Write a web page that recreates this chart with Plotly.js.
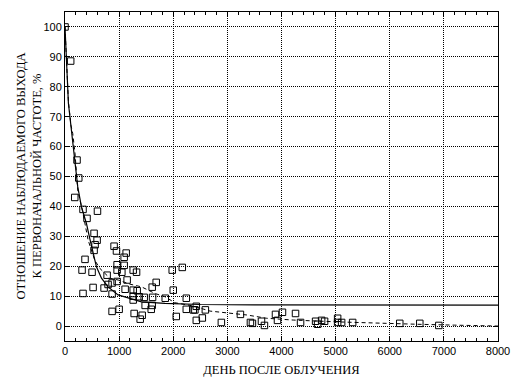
<!DOCTYPE html>
<html>
<head>
<meta charset="utf-8">
<script src="https://cdn.plot.ly/plotly-3.0.1.min.js"></script>
<style>html,body{margin:0;padding:0;background:#fff;}#chart{width:515px;height:386px;}</style>
</head>
<body>
<div id="chart"></div>
<script>
// Observed points: day after irradiation, ratio of observed yield to initial frequency (%)
const pointDays = [0, 105, 222, 254, 180, 333, 600, 407, 537, 593, 556, 537, 370, 907, 951, 1130, 1093,
  315, 500, 963, 1093, 963, 1050, 1260, 1322, 1981, 2167, 778, 1685, 1148, 1611, 870, 963, 519, 722, 796,
  1111, 333, 870, 1260, 1333, 2000, 1260, 1370, 1463, 1618, 1852, 2241, 1260, 1481, 1611, 1593, 870, 1000,
  1278, 1426, 1389, 2056, 2241, 2426, 2400, 2370, 2593, 2426, 2537, 2889, 3241, 3426, 3463, 3630, 3685,
  3889, 3926, 4018, 4259, 4352, 4630, 4667, 4741, 4796, 5037, 5037, 5111, 5315, 6185, 6555, 6907];
const pointYield = [100, 88.6, 55.5, 49.5, 43, 39, 38.4, 36, 31, 28.7, 27.2, 25.3, 22.3, 26.7, 25.1, 24.4, 23,
  18.7, 18, 20.5, 20.3, 18.7, 18, 18.7, 18, 18.7, 19.6, 17, 14.6, 15.4, 13, 14.4, 14.9, 12.9, 12.7, 13.9,
  12.3, 10.9, 10.7, 12, 11.8, 12, 10, 9.8, 9.6, 9.6, 9.3, 9.3, 8.7, 6.9, 6.9, 5.6, 4.9, 5.6,
  4.2, 3.6, 2.3, 3.2, 5.6, 6.6, 5.4, 5.4, 5.4, 1.9, 2.7, 1.2, 3.9, 1.2, 0.9, 1.6, 0.2,
  3.9, 1.9, 4.6, 4.2, 1.2, 1.6, 0.6, 1.9, 1.6, 2.6, 1.2, 1.2, 1.2, 0.9, 0.9, 0.2];

// Solid fitted curve
const solidDays = [0, 13, 31, 63, 111, 156, 198, 235, 303, 396, 457, 519, 581, 674, 796, 981, 1167, 1414, 1846, 2500, 3500, 5000, 8000];
const solidYield = [100, 95.6, 85.6, 74.5, 66.7, 60, 53.3, 46.6, 39.9, 34.3, 29.3, 24.3, 19.8, 16, 13.1, 10.4, 9.3, 8.1, 7.6, 7.2, 7.05, 7, 7];

// Dashed smoothed curve
const dashDays = [0, 13, 31, 63, 111, 143, 185, 235, 333, 426, 550, 643, 828, 981, 1200, 1414, 1661, 1846, 2031, 2370, 2680, 3050, 3360, 3728, 4216, 5025, 5765, 6500, 7200, 8000];
const dashYield = [100, 95.6, 86, 75, 67, 64.4, 57.8, 45.5, 37.7, 28.8, 22, 19.3, 16, 15.4, 14, 13.1, 10.9, 9.8, 7.8, 6.7, 5, 4.2, 3.7, 2.6, 2, 1.4, 0.9, 0.6, 0.3, 0];

const xTickVals = [0, 1000, 2000, 3000, 4000, 5000, 6000, 7000, 8000];
const yTickVals = [0, 10, 20, 30, 40, 50, 60, 70, 80, 90, 100];

const xTitle = 'ДЕНЬ ПОСЛЕ ОБЛУЧЕНИЯ';
const yTitle = 'ОТНОШЕНИЕ НАБЛЮДАЕМОГО ВЫХОДА<br>К ПЕРВОНАЧАЛЬНОЙ ЧАСТОТЕ, %';

const serif = "'Liberation Serif', 'Times New Roman', serif";
const sans = "'Liberation Sans', Arial, sans-serif";

const traces = [
  {x: dashDays, y: dashYield, type: 'scatter', mode: 'lines', name: 'smooth',
   line: {color: '#000', width: 1, dash: '4px,3px'}, hoverinfo: 'skip'},
  {x: solidDays, y: solidYield, type: 'scatter', mode: 'lines', name: 'fit',
   line: {color: '#000', width: 1.2}, hoverinfo: 'skip'},
  {x: pointDays, y: pointYield, type: 'scatter', mode: 'markers', name: 'data',
   marker: {symbol: 'square-open', size: 6.5, color: '#000', line: {color: '#000', width: 1}}}
];

const axisCommon = {
  showline: true, linecolor: '#000', linewidth: 1, mirror: 'ticks',
  ticks: 'inside', tickcolor: '#000', tickwidth: 1,
  showgrid: true, gridcolor: '#000', gridwidth: 1, griddash: '1px,1px',
  zeroline: false, tickfont: {family: sans, size: 11, color: '#000'}
};

const layout = {
  width: 515, height: 386,
  margin: {l: 65, r: 17, t: 12, b: 45},
  paper_bgcolor: '#fff', plot_bgcolor: '#fff',
  showlegend: false,
  xaxis: Object.assign({}, axisCommon, {
    range: [0, 8000], tickvals: xTickVals, ticklen: 4,
    minor: {dtick: 200, ticks: 'inside', ticklen: 3, tickcolor: '#000', showgrid: false},
    title: {text: xTitle, font: {family: serif, size: 12.5, color: '#000'}, standoff: 9}
  }),
  yaxis: Object.assign({}, axisCommon, {
    range: [-5, 105], tickvals: yTickVals, ticklen: 5
  }),
  annotations: [{
    text: yTitle, xref: 'paper', yref: 'paper', x: -37 / 433, y: 0.5,
    xanchor: 'center', yanchor: 'middle', textangle: -90, showarrow: false,
    font: {family: serif, size: 12.5, color: '#000'}, align: 'center'
  }]
};

Plotly.newPlot('chart', traces, layout, {staticPlot: true, displayModeBar: false});
</script>
</body>
</html>
